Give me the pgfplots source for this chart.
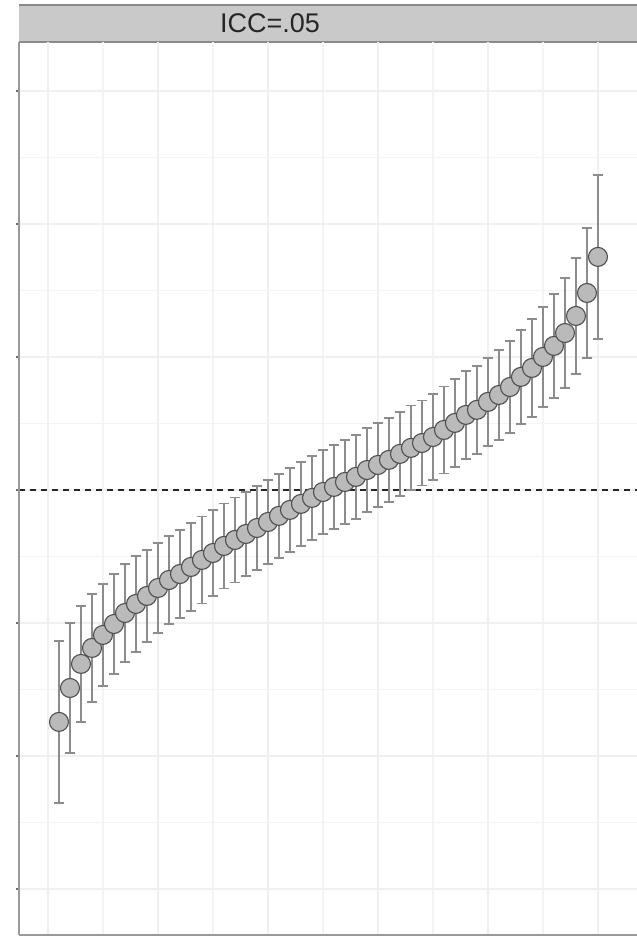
\documentclass[border=0pt]{standalone}
\usepackage{fontspec}
\setmainfont{Liberation Sans}
\usepackage{pgfplots}
\usepackage{pgfplotstable}
\pgfplotsset{compat=1.18}
\definecolor{stripfill}{HTML}{C9C9C9}
\definecolor{stripline}{HTML}{8A8A8A}
\definecolor{gridmaj}{HTML}{F0F0F0}
\definecolor{gridmin}{HTML}{F4F4F4}
\definecolor{ptfill}{HTML}{BABABA}
\definecolor{ptline}{HTML}{505050}
\definecolor{barcol}{HTML}{8C8C8C}
\definecolor{axcol}{HTML}{9A9A9A}
\pgfplotstableread{
x y e
1 -1.744 0.609
2 -1.489 0.489
3 -1.308 0.436
4 -1.188 0.406
5 -1.090 0.383
6 -1.008 0.376
7 -0.925 0.368
8 -0.857 0.361
9 -0.797 0.346
10 -0.737 0.338
11 -0.677 0.331
12 -0.632 0.331
13 -0.579 0.331
14 -0.526 0.326
15 -0.474 0.323
16 -0.421 0.320
17 -0.376 0.318
18 -0.331 0.316
19 -0.286 0.316
20 -0.241 0.316
21 -0.195 0.316
22 -0.150 0.316
23 -0.105 0.316
24 -0.060 0.316
25 -0.015 0.316
26 0.023 0.316
27 0.060 0.316
28 0.098 0.316
29 0.150 0.316
30 0.188 0.316
31 0.226 0.316
32 0.271 0.316
33 0.316 0.318
34 0.353 0.320
35 0.398 0.323
36 0.451 0.326
37 0.504 0.331
38 0.564 0.331
39 0.602 0.331
40 0.662 0.331
41 0.714 0.338
42 0.774 0.346
43 0.850 0.353
44 0.917 0.368
45 1.000 0.376
46 1.083 0.391
47 1.180 0.414
48 1.308 0.436
49 1.481 0.489
50 1.752 0.617
}\datatable
\begin{document}
\begin{tikzpicture}[x=0.4pt,y=0.4pt]
\useasboundingbox (-19,-2) rectangle (618,935);
\clip (-19,-2) rectangle (618,935);
% strip
\fill[stripfill] (0,893) rectangle (640,930);
\draw[stripline,line width=0.6pt] (0,930) -- (640,930);
\draw[stripline,line width=0.6pt] (0,893) -- (640,893);
\node[font=\fontsize{10.8}{13}\selectfont, text=black!85] at (251,911.5) {ICC=.05};
\begin{axis}[
  at={(0pt,0pt)}, anchor=south west,
  scale only axis, width=247.2pt, height=357.2pt,
  xmin=-2.636, xmax=53.55, ymin=-3.346, ymax=3.368,
  axis line style={draw=none},
  xtick={0,10,20,30,40,50}, minor xtick={5,15,25,35,45},
  ytick={-3,-2,-1,0,1,2,3}, minor ytick={-2.5,-1.5,-0.5,0.5,1.5,2.5},
  xticklabels={}, yticklabels={},
  grid=both,
  major grid style={gridmaj, line width=0.5pt},
  minor grid style={gridmin, line width=0.45pt},
  x tick style={draw=none}, minor x tick style={draw=none},
  minor y tick style={draw=none},
  y tick style={axcol!70!black, line width=0.6pt},
  tick align=outside, major tick length=1.3pt,
  ytick pos=left,
  clip=false,
]
\addplot[black!85, dashed, line width=0.5pt, dash pattern=on 2.4pt off 2pt, forget plot] coordinates {(-2.636,0) (53.55,0)};
\addplot[
  only marks, mark=*, mark size=3.8pt,
  mark options={fill=ptfill, draw=ptline, line width=0.45pt},
  error bars/.cd, y dir=both, y explicit,
  error bar style={barcol, line width=0.6pt},
  error mark options={barcol, line width=0.6pt, mark size=1.9pt, rotate=90},
] table[x=x, y=y, y error=e] {\datatable};
\end{axis}
\draw[axcol, line width=0.8pt] (0,0) -- (0,893);
\draw[axcol, line width=0.8pt] (0,0) -- (640,0);
\end{tikzpicture}
\end{document}
